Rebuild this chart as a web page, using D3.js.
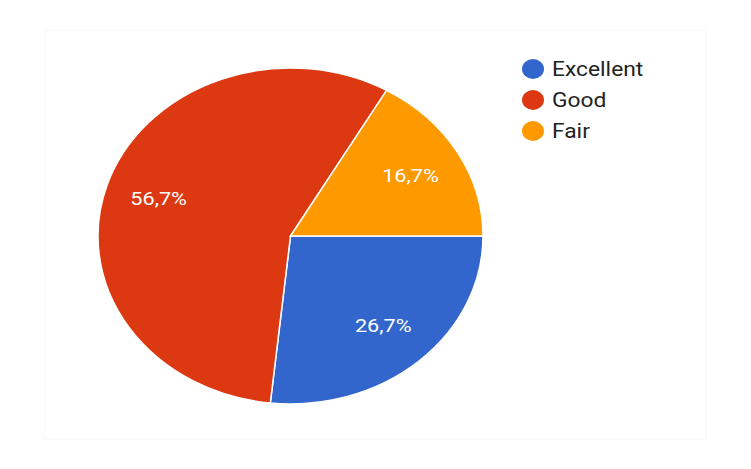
<!DOCTYPE html>
<html>
<head>
<meta charset="utf-8">
<script src="https://cdn.jsdelivr.net/npm/d3@7/dist/d3.min.js"></script>
<style>
  html, body { margin: 0; padding: 0; background: #fff; }
  svg { display: block; }
</style>
</head>
<body>
<svg id="chart" width="751" height="469"></svg>
<script>
// Rating distribution
const categories = ["Excellent", "Good", "Fair"];
const shares = [26.7, 56.7, 16.7];
const labels = ["26,7%", "56,7%", "16,7%"];
const colors = ["#3366CC", "#DC3912", "#FF9900"];

const svg = d3.select("#chart");
const W = 751, H = 469;

// faint outer frame
svg.append("rect")
  .attr("x", 44.5).attr("y", 30.5)
  .attr("width", W - 89).attr("height", H - 60)
  .attr("fill", "none").attr("stroke", "#f8f8f8").attr("stroke-width", 1);

const cx = 290.5, cy = 236, rx = 192.5, ry = 168;
const sx = 1.14; // horizontal stretch applied to text

const pie = d3.pie()
  .value(d => d)
  .sort(null)
  .startAngle(Math.PI / 2)
  .endAngle(Math.PI / 2 + 2 * Math.PI);

const arcs = pie(shares);
const arc = d3.arc().innerRadius(0).outerRadius(ry);

const g = svg.append("g")
  .attr("transform", `translate(${cx},${cy}) scale(${rx / ry},1)`);

g.selectAll("path")
  .data(arcs)
  .join("path")
  .attr("d", arc)
  .attr("fill", (d, i) => colors[i])
  .attr("stroke", "#fff")
  .attr("stroke-width", 1.5)
  .attr("vector-effect", "non-scaling-stroke");

// slice labels
const lr = 0.72;
svg.selectAll("text.slice")
  .data(arcs)
  .join("text")
  .attr("class", "slice")
  .attr("transform", d => {
    const a = (d.startAngle + d.endAngle) / 2;
    const x = cx + rx * lr * Math.sin(a);
    const y = cy - ry * lr * Math.cos(a);
    return `translate(${x},${y}) scale(${sx},1)`;
  })
  .attr("text-anchor", "middle")
  .attr("dominant-baseline", "central")
  .attr("fill", "#fff")
  .attr("font-family", "Roboto, Arial, sans-serif")
  .attr("font-size", 19)
  .text((d, i) => labels[i]);

// legend
const legend = svg.append("g").attr("transform", "translate(533,69)");
const item = legend.selectAll("g")
  .data(categories)
  .join("g")
  .attr("transform", (d, i) => `translate(0,${i * 31})`);
item.append("ellipse")
  .attr("rx", 11)
  .attr("ry", 10)
  .attr("fill", (d, i) => colors[i]);
item.append("text")
  .attr("transform", `translate(19,0) scale(${sx},1)`)
  .attr("dominant-baseline", "central")
  .attr("fill", "#222")
  .attr("font-family", "Roboto, Arial, sans-serif")
  .attr("font-size", 20)
  .text(d => d);
</script>
</body>
</html>
